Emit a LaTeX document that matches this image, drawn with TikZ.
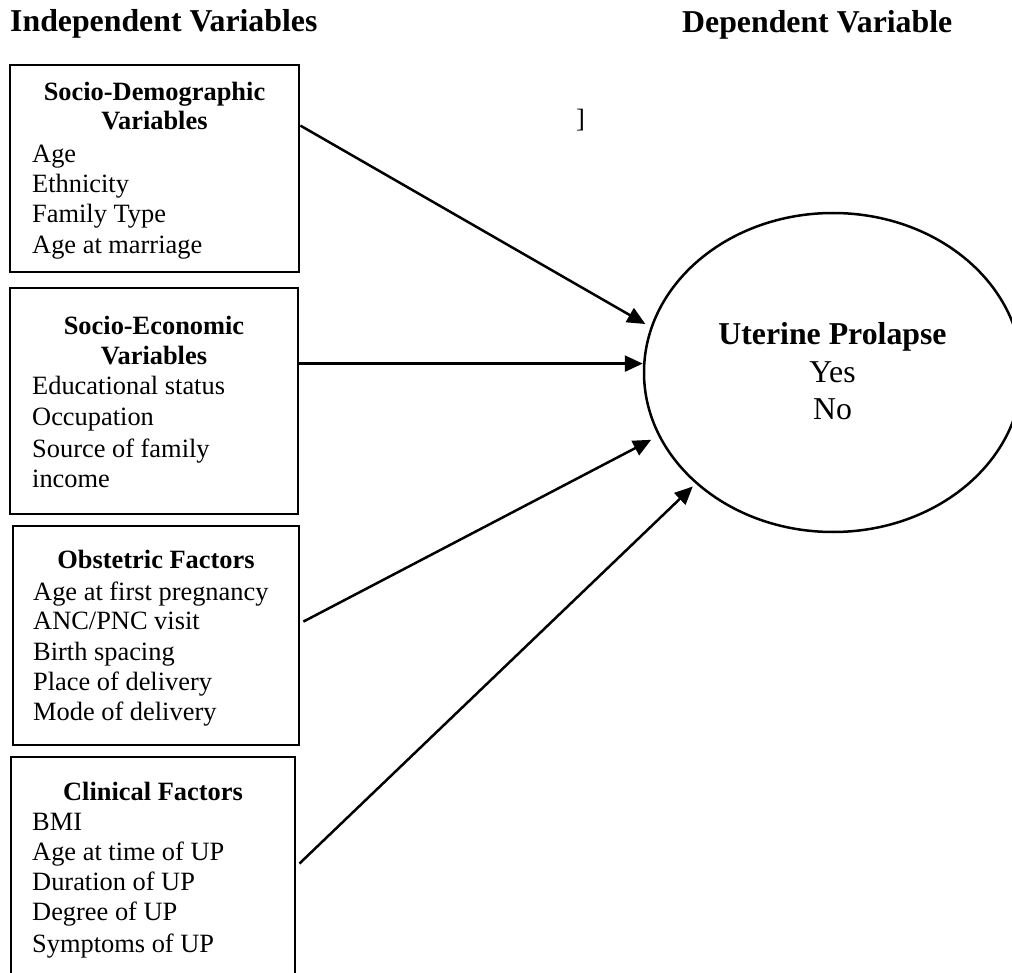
\documentclass[tikz,border=0pt]{standalone}
\usepackage{fontspec}
\setmainfont{Liberation Serif}
\usetikzlibrary{shapes.geometric,arrows.meta,calc}
\begin{document}
\begin{tikzpicture}[x=1pt,y=-1pt,
  box/.style={draw, line width=2.8pt, rectangle, inner sep=0pt},
  body/.style={anchor=base west, inner sep=0pt, font=\fontsize{26.4}{30}\selectfont},
  head/.style={anchor=base, inner sep=0pt, font=\fontsize{26.4}{30}\selectfont\bfseries},
  title/.style={anchor=base west, inner sep=0pt, font=\fontsize{31.8}{37}\selectfont\bfseries},
  outc/.style={anchor=base, inner sep=0pt, font=\fontsize{31.8}{37}\selectfont},
  link/.style={line width=2.5pt, -{Triangle[length=18pt,width=16pt]}}]
\clip (0,0) rectangle (1012,973);
\fill[white] (0,0) rectangle (1012,973);

% titles
\node[title] (tind) at (10,32) {Independent Variables};
\node[title] (tdep) at (682,33) {Dependent Variable};
\node[body] (brk) at (576,128) {]};

% box 1
\node[box, minimum width=289, minimum height=207] (b1) at (154.5,168.5) {};
\node[head] (h1a) at (154.5,101) {Socio-Demographic};
\node[head] (h1b) at (154.5,130) {Variables};
\node[body] (l1a) at (32,163) {Age};
\node[body] (l1b) at (32,193) {Ethnicity};
\node[body] (l1c) at (32,223) {Family Type};
\node[body] (l1d) at (32,254) {Age at marriage};

% box 2
\node[box, minimum width=288, minimum height=226] (b2) at (154,401) {};
\node[head] (h2a) at (154,335) {Socio-Economic};
\node[head] (h2b) at (154,365) {Variables};
\node[body] (l2a) at (32,395) {Educational status};
\node[body] (l2b) at (32,425) {Occupation};
\node[body] (l2c) at (32,457) {Source of family};
\node[body] (l2d) at (32,487) {income};

% box 3
\node[box, minimum width=286, minimum height=219] (b3) at (156,635.5) {};
\node[head] (h3a) at (156,568) {Obstetric Factors};
\node[body] (l3a) at (33,600) {Age at first pregnancy};
\node[body] (l3b) at (33,629) {ANC/PNC visit};
\node[body] (l3c) at (33,660) {Birth spacing};
\node[body] (l3d) at (33,690) {Place of delivery};
\node[body] (l3e) at (33,720) {Mode of delivery};

% box 4 (runs past the bottom edge)
\node[box, minimum width=284, minimum height=250] (b4) at (153,882) {};
\node[head] (h4a) at (153,800) {Clinical Factors};
\node[body] (l4a) at (32,830) {BMI};
\node[body] (l4b) at (32,860) {Age at time of UP};
\node[body] (l4c) at (32,890) {Duration of UP};
\node[body] (l4d) at (32,920) {Degree of UP};
\node[body] (l4e) at (32,952) {Symptoms of UP};

% outcome ellipse
\node[ellipse, draw, line width=2.5pt, minimum width=378, minimum height=319, inner sep=0pt] (ell) at (833,372.5) {};
\node[title, anchor=base] (up) at (832.5,345) {Uterine Prolapse};
\node[outc] (yes) at (832.5,383) {Yes};
\node[outc] (no) at (832.5,420) {No};

% connectors
\coordinate (s1) at ($(b1.north east)+(0,62)$);
\coordinate (s2) at ($(b2.north east)+(0,77)$);
\coordinate (s3) at ($(b3.north east)+(3,97)$);
\coordinate (s4) at ($(b4.north east)+(3,108)$);
\draw[link, shorten >=6pt] (s1) -- (ell.166.4);
\draw[link] (s2) -- (s2 -| ell.west);
\draw[link, shorten >=8pt] (s3) -- (ell.200.8);
\draw[link, shorten >=4pt] (s4) -- (ell.219.7);
\end{tikzpicture}
\end{document}
